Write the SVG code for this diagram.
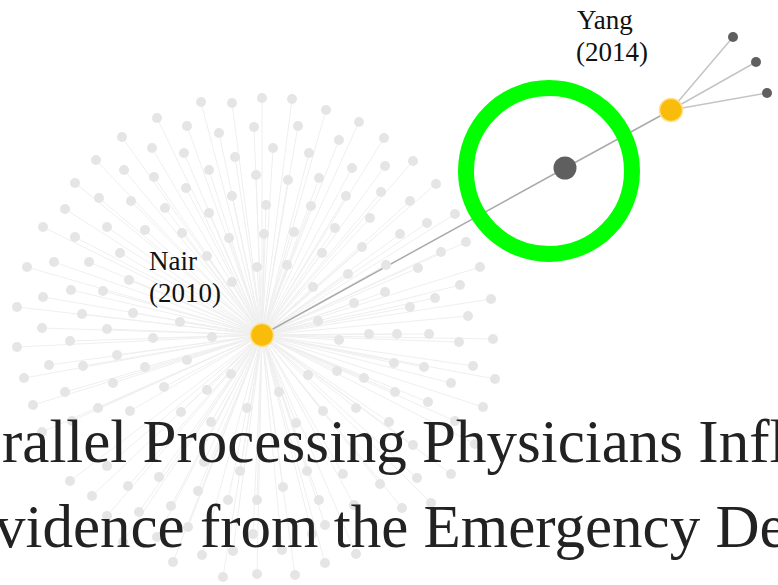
<svg xmlns="http://www.w3.org/2000/svg" width="778" height="585" viewBox="0 0 778 585">
<style>
.fd{fill:#e5e5e5}
.fl{fill:none;stroke:#efefef;stroke-width:1}
.main{fill:none;stroke:#aaaaaa;stroke-width:1.5}
.sub{fill:none;stroke:#c4c4c4;stroke-width:1.5}
.lbl{font-family:"Liberation Serif","Times New Roman",serif;font-size:27px;fill:#111}
.big{font-family:"Liberation Serif","Times New Roman",serif;font-size:61px;fill:#222}
.pub{fill:#f9bc0a;stroke:#ffe08a;stroke-width:1.5}
.dk{fill:#5f5f5f}
</style>
<rect width="778" height="585" fill="#ffffff"/>
<g id="connectors">
<path class="fl" d="M262 335L201 102M262 335L232 103M262 335L262 98M262 335L157 118M262 335L187 126M262 335L219 133M262 335L254 127M262 335L122 137M262 335L152 148M262 335L184 153M262 335L235 157M262 335L96 160M262 335L124 170M262 335L154 177M262 335L209 170M262 335L256 175M262 335L75 183M262 335L99 198M262 335L131 201M262 335L186 188M262 335L232 196M262 335L65 209M262 335L165 208M262 335L209 213M262 335L43 227M262 335L107 227M262 335L145 230M262 335L182 233M262 335L229 238M262 335L75 237M262 335L120 253M262 335L207 256M262 335L27 267M262 335L54 262M262 335L89 262M262 335L129 280M262 335L232 282M262 335L43 297M262 335L71 290M262 335L103 291M262 335L17 307M262 335L82 314M262 335L133 313M262 335L180 322M262 335L42 328M262 335L107 329M262 335L257 267M262 335L292 99M262 335L326 110M262 335L359 122M262 335L298 126M262 335L339 140M262 335L384 138M262 335L273 148M262 335L309 153M262 335L413 161M262 335L352 168M262 335L385 166M262 335L436 184M262 335L288 180M262 335L319 178M262 335L346 196M262 335L381 192M262 335L410 201M262 335L266 205M262 335L311 206M262 335L455 214M262 335L370 218M262 335L427 223M262 335L264 234M262 335L294 232M262 335L335 228M262 335L400 234M262 335L466 242M262 335L362 247M262 335L441 252M262 335L322 253M262 335L386 265M262 335L418 268M262 335L480 267M262 335L287 265M262 335L348 274M262 335L460 285M262 335L313 287M262 335L385 292M262 335L435 298M262 335L491 299M262 335L354 303M262 335L410 307M262 335L468 316M262 335L318 321M262 335L369 334M262 335L397 334M262 335L429 334M262 335L17 347M262 335L70 341M262 335L153 338M262 335L212 337M262 335L49 365M262 335L83 366M262 335L117 355M262 335L145 367M262 335L187 360M262 335L24 378M262 335L113 383M262 335L164 387M262 335L207 390M262 335L231 374M262 335L65 392M262 335L33 405M262 335L98 408M262 335L130 411M262 335L181 412M262 335L247 408M262 335L72 421M262 335L211 422M262 335L42 432M262 335L107 466M262 335L159 477M262 335L240 471M262 335L204 462M262 335L70 481M262 335L128 486M262 335L198 491M262 335L92 496M262 335L171 506M262 335L228 500M262 335L257 500M262 335L139 512M262 335L107 516M262 335L188 527M262 335L253 534M262 335L157 537M262 335L123 542M262 335L202 555M262 335L233 551M262 335L173 562M262 335L223 577M262 335L257 574M262 335L339 340M262 335L459 342M262 335L493 339M262 335L308 375M262 335L337 371M262 335L364 378M262 335L394 363M262 335L424 367M262 335L473 366M262 335L495 379M262 335L451 383M262 335L279 392M262 335L323 411M262 335L356 408M262 335L395 392M262 335L428 402M262 335L483 407M262 335L296 423M262 335L389 422M262 335L455 421M262 335L413 445M262 335L475 444M262 335L307 471M262 335L343 474M262 335L380 484M262 335L417 478M262 335L451 474M262 335L283 487M262 335L319 500M262 335L354 505M262 335L402 508M262 335L431 503M262 335L325 525M262 335L282 550M262 335L312 534M262 335L356 554M262 335L325 563M262 335L295 575"/>
<path class="main" d="M262 335L565 168L671 110"/>
<path class="sub" d="M671 110L733 37M671 110L756 62M671 110L767 93"/>
</g>
<g id="faint-nodes" class="fd">
<circle cx="201" cy="102" r="5"/><circle cx="232" cy="103" r="5"/><circle cx="262" cy="98" r="5"/><circle cx="157" cy="118" r="5"/><circle cx="187" cy="126" r="5"/><circle cx="219" cy="133" r="5"/><circle cx="254" cy="127" r="5"/><circle cx="122" cy="137" r="5"/><circle cx="152" cy="148" r="5"/><circle cx="184" cy="153" r="5"/><circle cx="235" cy="157" r="5"/><circle cx="96" cy="160" r="5"/><circle cx="124" cy="170" r="5"/><circle cx="154" cy="177" r="5"/><circle cx="209" cy="170" r="5"/><circle cx="256" cy="175" r="5"/><circle cx="75" cy="183" r="5"/><circle cx="99" cy="198" r="5"/><circle cx="131" cy="201" r="5"/><circle cx="186" cy="188" r="5"/><circle cx="232" cy="196" r="5"/><circle cx="65" cy="209" r="5"/><circle cx="165" cy="208" r="5"/><circle cx="209" cy="213" r="5"/><circle cx="43" cy="227" r="5"/><circle cx="107" cy="227" r="5"/><circle cx="145" cy="230" r="5"/><circle cx="182" cy="233" r="5"/><circle cx="229" cy="238" r="5"/><circle cx="75" cy="237" r="5"/><circle cx="120" cy="253" r="5"/><circle cx="207" cy="256" r="5"/><circle cx="27" cy="267" r="5"/><circle cx="54" cy="262" r="5"/><circle cx="89" cy="262" r="5"/><circle cx="129" cy="280" r="5"/><circle cx="232" cy="282" r="5"/><circle cx="43" cy="297" r="5"/><circle cx="71" cy="290" r="5"/><circle cx="103" cy="291" r="5"/><circle cx="17" cy="307" r="5"/><circle cx="82" cy="314" r="5"/><circle cx="133" cy="313" r="5"/><circle cx="180" cy="322" r="5"/><circle cx="42" cy="328" r="5"/><circle cx="107" cy="329" r="5"/><circle cx="257" cy="267" r="5"/>
<circle cx="292" cy="99" r="5"/><circle cx="326" cy="110" r="5"/><circle cx="359" cy="122" r="5"/><circle cx="298" cy="126" r="5"/><circle cx="339" cy="140" r="5"/><circle cx="384" cy="138" r="5"/><circle cx="273" cy="148" r="5"/><circle cx="309" cy="153" r="5"/><circle cx="413" cy="161" r="5"/><circle cx="352" cy="168" r="5"/><circle cx="385" cy="166" r="5"/><circle cx="436" cy="184" r="5"/><circle cx="288" cy="180" r="5"/><circle cx="319" cy="178" r="5"/><circle cx="346" cy="196" r="5"/><circle cx="381" cy="192" r="5"/><circle cx="410" cy="201" r="5"/><circle cx="266" cy="205" r="5"/><circle cx="311" cy="206" r="5"/><circle cx="455" cy="214" r="5"/><circle cx="370" cy="218" r="5"/><circle cx="427" cy="223" r="5"/><circle cx="264" cy="234" r="5"/><circle cx="294" cy="232" r="5"/><circle cx="335" cy="228" r="5"/><circle cx="400" cy="234" r="5"/><circle cx="466" cy="242" r="5"/><circle cx="362" cy="247" r="5"/><circle cx="441" cy="252" r="5"/><circle cx="322" cy="253" r="5"/><circle cx="386" cy="265" r="5"/><circle cx="418" cy="268" r="5"/><circle cx="480" cy="267" r="5"/><circle cx="287" cy="265" r="5"/><circle cx="348" cy="274" r="5"/><circle cx="460" cy="285" r="5"/><circle cx="313" cy="287" r="5"/><circle cx="385" cy="292" r="5"/><circle cx="435" cy="298" r="5"/><circle cx="491" cy="299" r="5"/><circle cx="354" cy="303" r="5"/><circle cx="410" cy="307" r="5"/><circle cx="468" cy="316" r="5"/><circle cx="318" cy="321" r="5"/><circle cx="369" cy="334" r="5"/><circle cx="397" cy="334" r="5"/><circle cx="429" cy="334" r="5"/>
<circle cx="17" cy="347" r="5"/><circle cx="70" cy="341" r="5"/><circle cx="153" cy="338" r="5"/><circle cx="212" cy="337" r="5"/><circle cx="49" cy="365" r="5"/><circle cx="83" cy="366" r="5"/><circle cx="117" cy="355" r="5"/><circle cx="145" cy="367" r="5"/><circle cx="187" cy="360" r="5"/><circle cx="24" cy="378" r="5"/><circle cx="113" cy="383" r="5"/><circle cx="164" cy="387" r="5"/><circle cx="207" cy="390" r="5"/><circle cx="231" cy="374" r="5"/><circle cx="65" cy="392" r="5"/><circle cx="33" cy="405" r="5"/><circle cx="98" cy="408" r="5"/><circle cx="130" cy="411" r="5"/><circle cx="181" cy="412" r="5"/><circle cx="247" cy="408" r="5"/><circle cx="72" cy="421" r="5"/><circle cx="211" cy="422" r="5"/><circle cx="42" cy="432" r="5"/><circle cx="107" cy="466" r="5"/><circle cx="159" cy="477" r="5"/><circle cx="240" cy="471" r="5"/><circle cx="204" cy="462" r="5"/><circle cx="70" cy="481" r="5"/><circle cx="128" cy="486" r="5"/><circle cx="198" cy="491" r="5"/><circle cx="92" cy="496" r="5"/><circle cx="171" cy="506" r="5"/><circle cx="228" cy="500" r="5"/><circle cx="257" cy="500" r="5"/><circle cx="139" cy="512" r="5"/><circle cx="107" cy="516" r="5"/><circle cx="188" cy="527" r="5"/><circle cx="253" cy="534" r="5"/><circle cx="157" cy="537" r="5"/><circle cx="123" cy="542" r="5"/><circle cx="202" cy="555" r="5"/><circle cx="233" cy="551" r="5"/><circle cx="173" cy="562" r="5"/><circle cx="223" cy="577" r="5"/><circle cx="257" cy="574" r="5"/>
<circle cx="339" cy="340" r="5"/><circle cx="459" cy="342" r="5"/><circle cx="493" cy="339" r="5"/><circle cx="308" cy="375" r="5"/><circle cx="337" cy="371" r="5"/><circle cx="364" cy="378" r="5"/><circle cx="394" cy="363" r="5"/><circle cx="424" cy="367" r="5"/><circle cx="473" cy="366" r="5"/><circle cx="495" cy="379" r="5"/><circle cx="451" cy="383" r="5"/><circle cx="279" cy="392" r="5"/><circle cx="323" cy="411" r="5"/><circle cx="356" cy="408" r="5"/><circle cx="395" cy="392" r="5"/><circle cx="428" cy="402" r="5"/><circle cx="483" cy="407" r="5"/><circle cx="296" cy="423" r="5"/><circle cx="389" cy="422" r="5"/><circle cx="455" cy="421" r="5"/><circle cx="413" cy="445" r="5"/><circle cx="475" cy="444" r="5"/><circle cx="307" cy="471" r="5"/><circle cx="343" cy="474" r="5"/><circle cx="380" cy="484" r="5"/><circle cx="417" cy="478" r="5"/><circle cx="451" cy="474" r="5"/><circle cx="283" cy="487" r="5"/><circle cx="319" cy="500" r="5"/><circle cx="354" cy="505" r="5"/><circle cx="402" cy="508" r="5"/><circle cx="431" cy="503" r="5"/><circle cx="325" cy="525" r="5"/><circle cx="282" cy="550" r="5"/><circle cx="312" cy="534" r="5"/><circle cx="356" cy="554" r="5"/><circle cx="325" cy="563" r="5"/><circle cx="295" cy="575" r="5"/>
</g>
<g id="highlight">
<circle cx="549" cy="171" r="83" fill="none" stroke="#00ff00" stroke-width="16"/>
</g>
<g id="node-center">
<circle class="dk" cx="565" cy="168" r="11.5"/>
</g>
<g id="node-yang">
<circle class="pub" cx="671" cy="110" r="11.5"/>
<text class="lbl" x="577" y="29">Yang</text>
<text class="lbl" x="576" y="61">(2014)</text>
</g>
<g id="node-c1"><circle class="dk" cx="733" cy="37" r="5"/></g>
<g id="node-c2"><circle class="dk" cx="756" cy="62" r="5"/></g>
<g id="node-c3"><circle class="dk" cx="767" cy="93" r="5"/></g>
<g id="node-nair">
<circle class="pub" cx="262" cy="335" r="11.5"/>
<text class="lbl" x="149" y="270">Nair</text>
<text class="lbl" x="149" y="302">(2010)</text>
</g>
<g id="title">
<text class="big" x="2" y="462">rallel Processing Physicians Infl</text>
<text class="big" x="-5" y="547">vidence from the Emergency De</text>
</g>
</svg>
